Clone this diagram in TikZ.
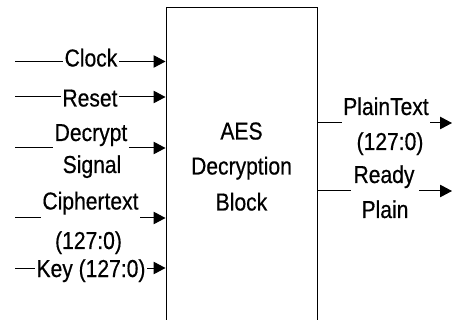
\documentclass[tikz,border=0pt]{standalone}
\usepackage{fontspec}
\setmainfont{Liberation Sans}[FakeStretch=0.86, FakeBold=0.5]
\usetikzlibrary{arrows.meta}

\tikzset{
  lbl/.style={inner xsep=1.5pt, inner ysep=0pt, anchor=base,
              font=\fontsize{24.5}{28}\selectfont},
  wire/.style={line width=1pt},
  sig/.style={wire, -{Triangle[length=12pt,width=12.5pt]}},
  block/.style={draw, line width=1pt, minimum width=151pt, minimum height=322pt,
                inner sep=0pt}
}

\begin{document}
\begin{tikzpicture}[x=1pt, y=-1pt]
  \useasboundingbox (0,0) rectangle (452,320);
  \clip (0,0) rectangle (452,320);

  % main block (its lower edge runs past the bottom of the page)
  \node[block] (box) at (241.5,169) {};
  \node[lbl] (aes) at (241.5,139.5) {AES};
  \node[lbl] (dec) at (241.5,174.5) {Decryption};
  \node[lbl] (blk) at (241.5,210.5) {Block};

  % input ports
  \coordinate (clkin) at (15,61.5);
  \coordinate (rstin) at (15,97);
  \coordinate (dsin)  at (15,148);
  \coordinate (ctin)  at (15,218);
  \coordinate (keyin) at (15,268);

  \node[lbl] (clk)  at (91,66.5)  {Clock};
  \node[lbl] (rst)  at (90,106.5) {Reset};
  \node[lbl] (dsa)  at (91,141)   {Decrypt};
  \node[lbl] (dsb)  at (92,173)   {Signal};
  \node[lbl] (cta)  at (90.5,209.5) {Ciphertext};
  \node[lbl] (ctb)  at (88.5,249) {(127:0)};
  \node[lbl] (key)  at (91,277)   {Key (127:0)};

  \draw[wire] (clkin) -- (clk.west |- clkin);
  \draw[sig]  (clk.east |- clkin) -- (clkin -| box.west);
  \draw[wire] (rstin) -- (rst.west |- rstin);
  \draw[sig]  (rst.east |- rstin) -- (rstin -| box.west);
  \draw[wire] (dsin) -- (dsa.west |- dsin);
  \draw[sig]  (dsa.east |- dsin) -- (dsin -| box.west);
  \draw[wire] (ctin) -- (cta.west |- ctin);
  \draw[sig]  (cta.east |- ctin) -- (ctin -| box.west);
  \draw[wire] (keyin) -- (key.west |- keyin);
  \draw[sig]  (key.east |- keyin) -- (keyin -| box.west);

  % output ports
  \coordinate (ptout) at (452,123);
  \coordinate (rpout) at (452,191);

  \node[lbl] (pta) at (386,115) {PlainText};
  \node[lbl] (ptb) at (390,150) {(127:0)};
  \node[lbl] (rpa) at (384,183) {Ready};
  \node[lbl] (rpb) at (385,218) {Plain};

  \draw[wire] (ptout -| box.east) -- (pta.west |- ptout);
  \draw[sig]  (pta.east |- ptout) -- (ptout);
  \draw[wire] (rpout -| box.east) -- ([xshift=-1pt]rpa.west |- rpout);
  \draw[sig]  ([xshift=3pt]rpa.east |- rpout) -- (rpout);
\end{tikzpicture}
\end{document}
